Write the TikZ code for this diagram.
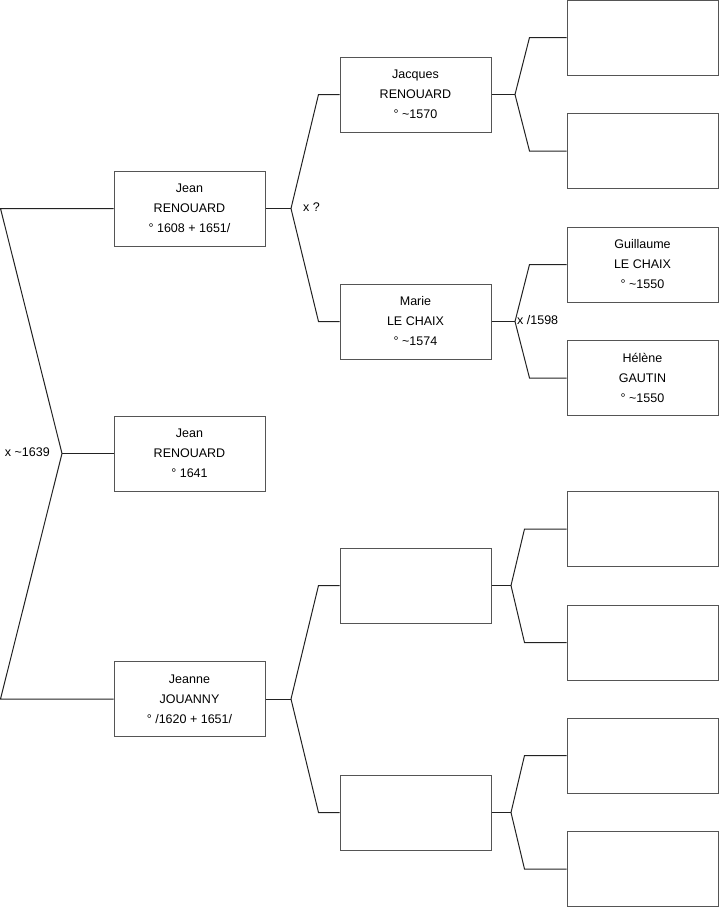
\documentclass[tikz,border=0pt]{standalone}
\usepackage{fontspec}
\setmainfont{Liberation Sans}
\usetikzlibrary{positioning}
\definecolor{frame}{HTML}{555555}
\definecolor{wire}{HTML}{222222}
\tikzset{
  person/.style={draw=frame, line width=1pt, fill=white, minimum width=151pt,
    minimum height=75pt, inner sep=0pt, align=center,
    font=\fontsize{12.5}{20}\selectfont},
  link/.style={draw=wire, line width=1pt},
  wed/.style={font=\fontsize{12.5}{15}\selectfont, inner sep=0pt},
}
\begin{document}
\begin{tikzpicture}[x=1pt,y=-1pt]
\useasboundingbox (0,0) rectangle (719,908);

% ----- generation 1 -----
\node[person] (jean) at (189.5,208.5) {Jean\\RENOUARD\\° 1608 + 1651/};
\node[person] (child) at (189.5,453.5) {Jean\\RENOUARD\\° 1641};
\node[person] (jeanne) at (189.5,699) {Jeanne\\JOUANNY\\° /1620 + 1651/};

% ----- generation 2 -----
\node[person] (jacques) at (415.5,94.5) {Jacques\\RENOUARD\\° \textasciitilde1570};
\node[person] (marie) at (415.5,321.5) {Marie\\LE CHAIX\\° \textasciitilde1574};
\node[person] (pjouanny) at (415.5,585.5) {};
\node[person] (mjouanny) at (415.5,812.5) {};

% ----- generation 3 -----
\node[person] (pjacques) at (642.5,37.5) {};
\node[person] (mjacques) at (642.5,151) {};
\node[person] (guillaume) at (642.5,264.5) {Guillaume\\LE CHAIX\\° \textasciitilde1550};
\node[person] (helene) at (642.5,378) {Hélène\\GAUTIN\\° \textasciitilde1550};
\node[person] (ppj) at (642.5,529) {};
\node[person] (mpj) at (642.5,642.5) {};
\node[person] (pmj) at (642.5,755.5) {};
\node[person] (mmj) at (642.5,869) {};

% ----- fork points -----
\coordinate (v0) at (62,453.5);
\coordinate (v1) at (291,208.5);
\coordinate (v2) at (291,699);
\coordinate (v3) at (515,94.5);
\coordinate (v4) at (515,321.5);
\coordinate (v5) at (511,585.5);
\coordinate (v6) at (511,812.5);

% ----- couple of generation 1 -----
\draw[link] (child.west) -- (v0);
\draw[link] (jean.west) -- ([xshift=-113pt]jean.west) -- (v0);
\draw[link] (jeanne.west) -- ([xshift=-113pt]jeanne.west) -- (v0);
\node[wed, anchor=east] (w0) at (50,452) {x \textasciitilde1639};

% ----- parents of Jean -----
\draw[link] (jean.east) -- (v1);
\draw[link] (v1) -- ([xshift=-21pt]jacques.west) -- (jacques.west);
\draw[link] (v1) -- ([xshift=-21pt]marie.west) -- (marie.west);
\node[wed, anchor=west] (w1) at (303,207.5) {x ?};

% ----- parents of Jeanne -----
\draw[link] (jeanne.east) -- (v2);
\draw[link] (v2) -- ([xshift=-21pt]pjouanny.west) -- (pjouanny.west);
\draw[link] (v2) -- ([xshift=-21pt]mjouanny.west) -- (mjouanny.west);

% ----- generation 3 -----
\draw[link] (jacques.east) -- (v3);
\draw[link] (v3) -- ([xshift=-37pt]pjacques.west) -- (pjacques.west);
\draw[link] (v3) -- ([xshift=-37pt]mjacques.west) -- (mjacques.west);

\draw[link] (marie.east) -- (v4);
\draw[link] (v4) -- ([xshift=-37pt]guillaume.west) -- (guillaume.west);
\draw[link] (v4) -- ([xshift=-37pt]helene.west) -- (helene.west);
\node[wed, anchor=west] (w4) at (517,320.5) {x /1598};

\draw[link] (pjouanny.east) -- (v5);
\draw[link] (v5) -- ([xshift=-42pt]ppj.west) -- (ppj.west);
\draw[link] (v5) -- ([xshift=-42pt]mpj.west) -- (mpj.west);

\draw[link] (mjouanny.east) -- (v6);
\draw[link] (v6) -- ([xshift=-42pt]pmj.west) -- (pmj.west);
\draw[link] (v6) -- ([xshift=-42pt]mmj.west) -- (mmj.west);

\end{tikzpicture}
\end{document}
